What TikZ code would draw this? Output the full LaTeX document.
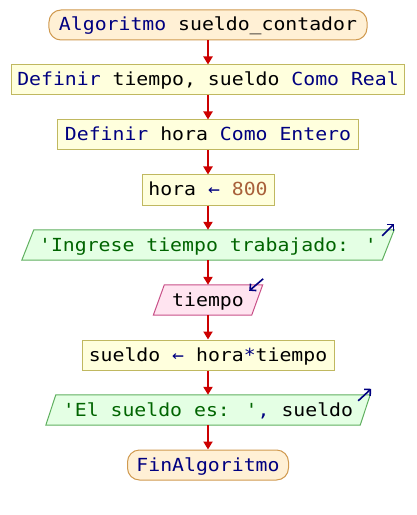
\documentclass[tikz,border=0pt]{standalone}
\usepackage{fontspec}
\usetikzlibrary{arrows.meta,backgrounds}
\newfontfamily\pse[FakeStretch=1.1]{DejaVu Sans Mono}
\definecolor{kw}{HTML}{000080}
\definecolor{str}{HTML}{006400}
\definecolor{num}{HTML}{A8603A}
\definecolor{termfill}{HTML}{FFF0D5}
\definecolor{termdraw}{HTML}{D09A50}
\definecolor{procfill}{HTML}{FFFFDD}
\definecolor{procdraw}{HTML}{C0B860}
\definecolor{outfill}{HTML}{E4FFE4}
\definecolor{outdraw}{HTML}{60B060}
\definecolor{infill}{HTML}{FFE4F0}
\definecolor{indraw}{HTML}{C85088}
\definecolor{flowred}{HTML}{CC0000}
\begin{document}
\begin{tikzpicture}[x=1bp,y=-1bp,
  font=\pse\fontsize{18bp}{20bp}\selectfont,
  base/.style={minimum height=30bp, inner sep=0pt, text height=16bp, text depth=4bp, anchor=center},
  term/.style={base, draw=termdraw, fill=termfill, rounded corners=12bp, line width=1bp},
  proc/.style={base, draw=procdraw, fill=procfill, line width=1bp},
  iobox/.style={base},
  outshape/.style={draw=outdraw, fill=outfill, line width=1bp},
  inshape/.style={draw=indraw, fill=infill, line width=1bp},
  flow/.style={draw=flowred, line width=2bp, -{Triangle[width=9bp,length=8bp]}},
  ioarrow/.style={draw=kw, line width=1.6bp, -{Straight Barb[length=4.5bp,width=9bp]}}
]
\useasboundingbox (0,0) rectangle (416,515);
\node[term, minimum width=318bp] (n1) at (208,25) {\textcolor{kw}{Algoritmo} sueldo\_contador};
\node[proc, minimum width=392bp] (n2) at (208,80) {\textcolor{kw}{Definir} tiempo, sueldo \textcolor{kw}{Como Real}};
\node[proc, minimum width=300bp] (n3) at (208,135) {\textcolor{kw}{Definir} hora \textcolor{kw}{Como Entero}};
\node[proc, minimum width=132bp] (n4) at (208,190) {hora \textcolor{kw}{←} \textcolor{num}{800}};
\node[iobox, minimum width=360bp] (n5) at (208,245) {\textcolor{str}{'Ingrese tiempo trabajado: '}};
\node[iobox, minimum width=98bp] (n6) at (208,300) {tiempo};
\node[proc, minimum width=252bp] (n7) at (208,355) {sueldo \textcolor{kw}{←} hora\textcolor{kw}{*}tiempo};
\node[iobox, minimum width=314bp] (n8) at (208,410) {\textcolor{str}{'El sueldo es: '}\textcolor{kw}{,} sueldo};
\node[term, minimum width=161bp] (n9) at (208,465) {\textcolor{kw}{FinAlgoritmo}};
\begin{scope}[on background layer]
\draw[outshape] ([xshift=6bp]n5.north west) -- ([xshift=6bp]n5.north east) -- ([xshift=-6bp]n5.south east) -- ([xshift=-6bp]n5.south west) -- cycle;
\draw[inshape] ([xshift=5.5bp]n6.north west) -- ([xshift=5.5bp]n6.north east) -- ([xshift=-5.5bp]n6.south east) -- ([xshift=-5.5bp]n6.south west) -- cycle;
\draw[outshape] ([xshift=5bp]n8.north west) -- ([xshift=5bp]n8.north east) -- ([xshift=-5bp]n8.south east) -- ([xshift=-5bp]n8.south west) -- cycle;
\end{scope}
\coordinate (a5s) at ([shift={(-6,6)}]n5.north east);
\coordinate (a5e) at ([shift={(6,-6)}]n5.north east);
\coordinate (a6s) at ([shift={(6,-6)}]n6.north east);
\coordinate (a6e) at ([shift={(-8,6)}]n6.north east);
\coordinate (a8s) at ([shift={(-7,6)}]n8.north east);
\coordinate (a8e) at ([shift={(6,-6)}]n8.north east);
\draw[ioarrow] (a5s) -- (a5e);
\draw[ioarrow] (a6s) -- (a6e);
\draw[ioarrow] (a8s) -- (a8e);
\draw[flow] (n1.south) -- (n2.north);
\draw[flow] (n2.south) -- (n3.north);
\draw[flow] (n3.south) -- (n4.north);
\draw[flow] (n4.south) -- (n5.north);
\draw[flow] (n5.south) -- (n6.north);
\draw[flow] (n6.south) -- (n7.north);
\draw[flow] (n7.south) -- (n8.north);
\draw[flow] (n8.south) -- (n9.north);
\end{tikzpicture}
\end{document}
